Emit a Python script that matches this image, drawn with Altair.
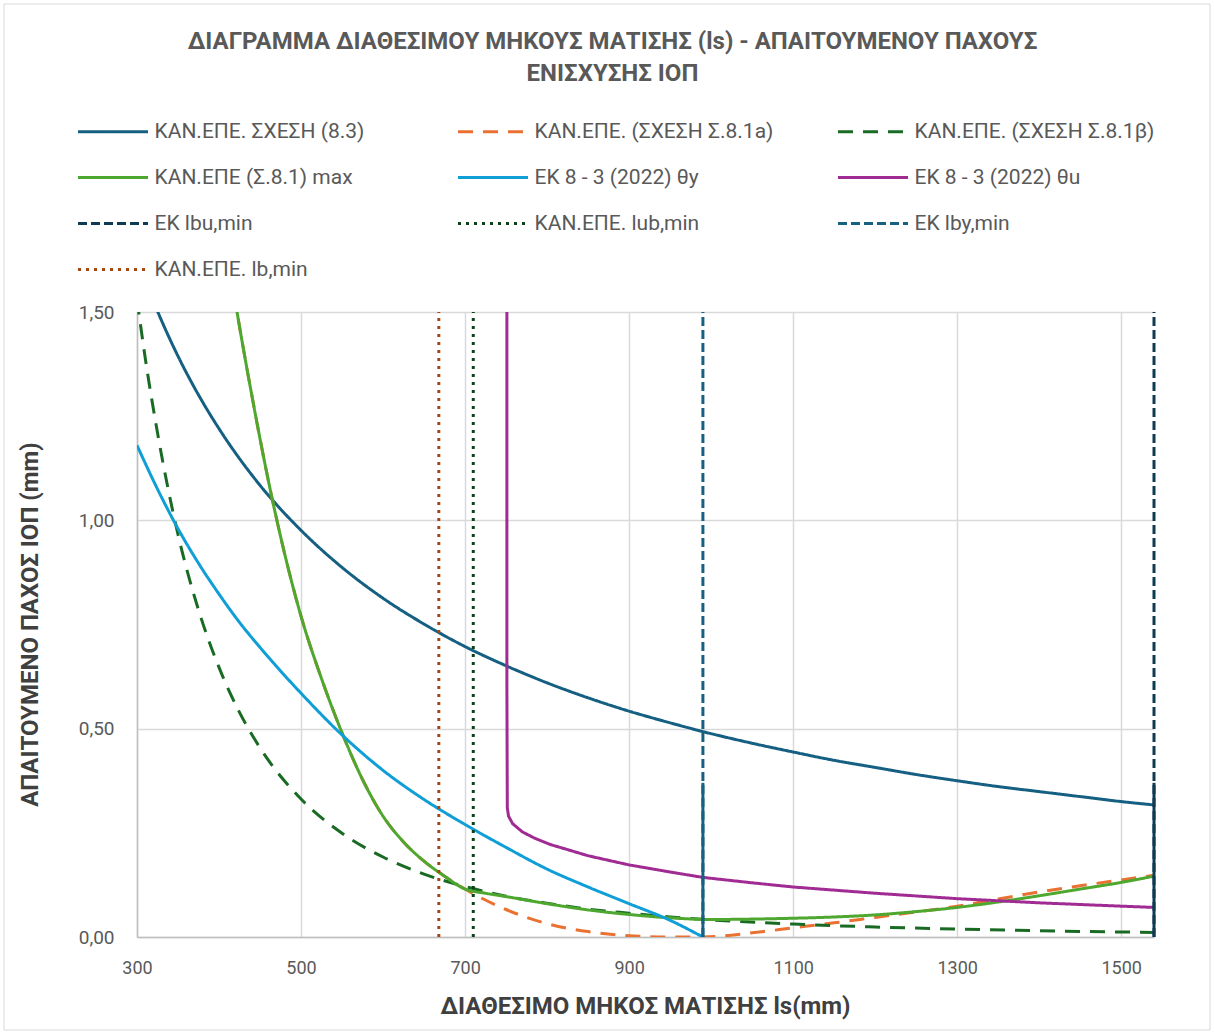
import altair as alt
import pandas as pd

# ---------------- data ----------------
SERIES = [
    "ΚΑΝ.ΕΠΕ. ΣΧΕΣΗ (8.3)",
    "ΚΑΝ.ΕΠΕ. (ΣΧΕΣΗ Σ.8.1a)",
    "ΚΑΝ.ΕΠΕ. (ΣΧΕΣΗ Σ.8.1β)",
    "ΚΑΝ.ΕΠΕ (Σ.8.1) max",
    "ΕΚ 8 - 3 (2022) θy",
    "ΕΚ 8 - 3 (2022) θu",
    "ΕΚ lbu,min",
    "ΚΑΝ.ΕΠΕ. lub,min",
    "ΕΚ lby,min",
    "ΚΑΝ.ΕΠΕ. lb,min",
]
COLORS = ["#155F82", "#E97132", "#196B24", "#4EA72E", "#0F9ED5",
          "#A02B93", "#0E3A52", "#0D4216", "#17607F", "#A5480F"]
DASHES = [[1, 0], [15, 10], [15, 10], [1, 0], [1, 0],
          [1, 0], [9, 4], [3, 5], [9, 4], [3, 5]]

s83_x = [300, 325, 350, 375, 400, 450, 500, 550, 600, 650, 700, 750, 800, 850,
         900, 950, 1000, 1050, 1100, 1150, 1200, 1250, 1300, 1350, 1400, 1450, 1500, 1540]
s83_y = [1.627, 1.502, 1.394, 1.301, 1.22, 1.084, 0.976, 0.887, 0.813, 0.751, 0.697, 0.651,
         0.61, 0.574, 0.542, 0.514, 0.488, 0.465, 0.444, 0.424, 0.407, 0.39, 0.375, 0.361,
         0.349, 0.337, 0.325, 0.317]

a_x = [400, 422, 440, 465, 500, 525, 550, 575, 600, 625, 650, 675, 700, 750, 800, 850,
       900, 950, 990, 1050, 1100, 1150, 1200, 1250, 1300, 1350, 1400, 1450, 1500, 1540]
a_y = [1.78, 1.50, 1.30, 1.05, 0.77, 0.62, 0.49, 0.378, 0.29, 0.228, 0.182, 0.146, 0.115, 0.066,
       0.032, 0.013, 0.003, 0.0, 0.0, 0.010, 0.022, 0.034, 0.047, 0.060, 0.074, 0.091, 0.108,
       0.123, 0.137, 0.148]

b_x = [300, 310, 325, 350, 375, 400, 425, 450, 500, 550, 600, 650, 700, 750, 800, 850,
       900, 950, 1000, 1100, 1200, 1300, 1400, 1500, 1540]
b_y = [1.53, 1.39, 1.21, 0.966, 0.785, 0.647, 0.539, 0.454, 0.331, 0.249, 0.192, 0.151,
       0.121, 0.098, 0.081, 0.067, 0.057, 0.048, 0.041, 0.031, 0.024, 0.019, 0.015, 0.012, 0.011]

max_x = [400, 422, 440, 465, 500, 525, 550, 575, 600, 625, 650, 675, 700, 725, 750, 800,
         850, 900, 950, 1000, 1050, 1100, 1150, 1200, 1250, 1300, 1350, 1400, 1450, 1500, 1540]
max_y = [1.78, 1.50, 1.30, 1.05, 0.77, 0.62, 0.49, 0.378, 0.29, 0.228, 0.182, 0.146, 0.115, 0.105,
         0.097, 0.08, 0.065, 0.054, 0.046, 0.042, 0.043, 0.045, 0.048, 0.053, 0.061, 0.071,
         0.084, 0.099, 0.115, 0.131, 0.146]

ty_x = [300, 325, 350, 375, 400, 425, 450, 500, 550, 600, 650, 700, 750, 800, 850, 900, 950, 990]
ty_y = [1.18, 1.075, 0.98, 0.897, 0.823, 0.755, 0.695, 0.585, 0.485, 0.40, 0.33, 0.27, 0.215,
        0.163, 0.12, 0.08, 0.04, 0.0]

tu_x = [751, 751, 751.5, 753, 758, 770, 785, 804, 850, 900, 950, 990, 1050, 1100, 1200,
        1300, 1400, 1500, 1540]
tu_y = [1.6, 0.6, 0.31, 0.29, 0.272, 0.252, 0.237, 0.222, 0.195, 0.173, 0.156, 0.143, 0.13,
        0.12, 0.105, 0.092, 0.082, 0.074, 0.071]

lbu_x = [1540, 1540]
lub_x = [710, 710]
lby_x = [990, 990]
lb_x = [668, 668]
v_y = [0.0, 1.5]
v_solid_y = [0.0, 0.37]

X_TICKS = [300, 500, 700, 900, 1100, 1300, 1500]
Y_TICKS = [0, 0.5, 1.0, 1.5]

TITLE = ["ΔΙΑΓΡΑΜΜΑ ΔΙΑΘΕΣΙΜΟΥ ΜΗΚΟΥΣ ΜΑΤΙΣΗΣ (ls) - ΑΠΑΙΤΟΥΜΕΝΟΥ ΠΑΧΟΥΣ", "ΕΝΙΣΧΥΣΗΣ ΙΟΠ"]
X_TITLE = "ΔΙΑΘΕΣΙΜΟ ΜΗΚΟΣ ΜΑΤΙΣΗΣ ls(mm)"
Y_TITLE = "ΑΠΑΙΤΟΥΜΕΝΟ ΠΑΧΟΣ ΙΟΠ (mm)"

# ---------------- tables ----------------
def table(name, xs, ys):
    return pd.DataFrame({"series": name, "x": xs, "y": ys, "i": list(range(len(xs)))})

frames = [
    table(SERIES[0], s83_x, s83_y),
    table(SERIES[1], a_x, a_y),
    table(SERIES[2], b_x, b_y),
    table(SERIES[3], max_x, max_y),
    table(SERIES[4], ty_x, ty_y),
    table(SERIES[5], tu_x, tu_y),
    table(SERIES[6], lbu_x, v_y),
    table(SERIES[7], lub_x, v_y),
    table(SERIES[8], lby_x, v_y),
    table(SERIES[9], lb_x, v_y),
]
df = pd.concat(frames, ignore_index=True)
df_solid = pd.concat([table(SERIES[6], lbu_x, v_solid_y),
                      table(SERIES[8], lby_x, v_solid_y)], ignore_index=True)

FONT = "Roboto"

legend = alt.Legend(
    title=None, orient="none", legendX=-59, legendY=-194,
    direction="horizontal", columns=3, gridAlign="all", columnPadding=57, rowPadding=22,
    symbolType="M-3,0H3", symbolSize=544, symbolStrokeWidth=3,
    symbolOffset=21.5, labelOffset=28, labelLimit=500,
    labelFont=FONT, labelFontSize=21, labelColor="#595959", symbolLimit=0,
)

x_enc = alt.X("x:Q", scale=alt.Scale(domain=[300, 1540], nice=False, zero=False),
              axis=alt.Axis(values=X_TICKS, title=X_TITLE,
                            titleX=508, titleY=69, titleBaseline="middle",
                            labelPadding=22, labelFlush=False, format="d"))
y_enc = alt.Y("y:Q", scale=alt.Scale(domain=[0, 1.5], nice=False, zero=True),
              axis=alt.Axis(values=Y_TICKS, title=Y_TITLE,
                            titleX=-107, titleY=312, titleBaseline="middle", titleAngle=270,
                            labelPadding=23, labelFontSize=19,
                            labelExpr="replace(format(datum.value, '.2f'), '.', ',')"))
color_enc = alt.Color("series:N", scale=alt.Scale(domain=SERIES, range=COLORS), legend=legend)
dash_enc = alt.StrokeDash("series:N", scale=alt.Scale(domain=SERIES, range=DASHES), legend=legend)

base = alt.Chart(df).encode(x=x_enc, y=y_enc, color=color_enc, strokeDash=dash_enc,
                            order=alt.Order("i:Q"))

layers = []
# thin border of the whole chart area
border = alt.Chart(pd.DataFrame({"k": [0]})).mark_rect(
    fill=None, stroke="#D9D9D9", strokeWidth=1, clip=False
).encode(x=alt.value(-133), x2=alt.value(1073), y=alt.value(-308), y2=alt.value(718))
layers.append(border)

for k, s in enumerate(SERIES):
    interp = "linear" if k >= 5 else "monotone"
    vertical = k >= 6
    layer = base.transform_filter(alt.FieldEqualPredicate(field="series", equal=s)).mark_line(
        strokeWidth=3, clip=not vertical, interpolate=interp)
    layers.append(layer)
    if k == 8:
        solid = alt.Chart(df_solid).mark_line(strokeWidth=3, clip=False).encode(
            x=x_enc, y=y_enc, color=color_enc, order=alt.Order("i:Q"))
        layers.append(solid)

chart = alt.layer(*layers).properties(
    width=1017, height=625,
    title=alt.TitleParams(
        text=TITLE,
        font=FONT, fontSize=24, fontWeight="bold", color="#595959",
        anchor="middle", offset=-82, dx=-33, lineHeight=32,
    ),
    autosize=alt.AutoSizeParams(type="none"),
    padding={"left": 137, "top": 312, "right": 60, "bottom": 97},
).configure(
    background="white",
).configure_view(
    strokeWidth=0,
).configure_axis(
    labelFont=FONT, labelFontSize=18, labelColor="#595959",
    titleFont=FONT, titleFontSize=24, titleFontWeight="bold", titleColor="#404040",
    ticks=False, tickSize=0,
    domainColor="#BFBFBF", domainWidth=1.5,
    gridColor="#D9D9D9", gridWidth=1.5,
)

chart.save("out.html", embed_options={"renderer": "svg", "actions": False})
